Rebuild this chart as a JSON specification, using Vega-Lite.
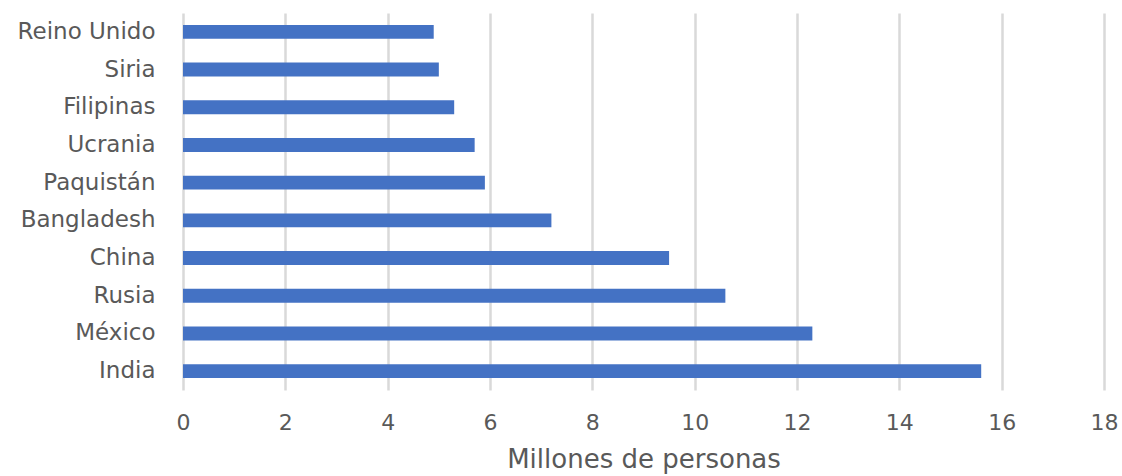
{
  "$schema": "https://vega.github.io/schema/vega-lite/v6.json",
  "width": 921,
  "height": 377,
  "autosize": {"type": "none"},
  "padding": {"left": 183, "top": 13, "right": 18, "bottom": 86},
  "background": "white",
  "data": {
    "values": [
      {"pais": "Reino Unido", "valor": 4.9},
      {"pais": "Siria", "valor": 5.0},
      {"pais": "Filipinas", "valor": 5.3},
      {"pais": "Ucrania", "valor": 5.7},
      {"pais": "Paquistán\u00a0", "valor": 5.9},
      {"pais": "Bangladesh", "valor": 7.2},
      {"pais": "China", "valor": 9.5},
      {"pais": "Rusia", "valor": 10.6},
      {"pais": "México", "valor": 12.3},
      {"pais": "India\u00a0", "valor": 15.6}
    ]
  },
  "mark": {"type": "bar", "color": "#4472C4"},
  "encoding": {
    "y": {
      "field": "pais",
      "type": "nominal",
      "sort": null,
      "scale": {"paddingInner": 0.63, "paddingOuter": 0.315},
      "axis": {
        "title": null,
        "domain": false,
        "ticks": false,
        "grid": false,
        "labelPadding": 28,
        "labelFont": "DejaVu Sans",
        "labelFontSize": 23,
        "labelColor": "#595959"
      }
    },
    "x": {
      "field": "valor",
      "type": "quantitative",
      "scale": {"domain": [0, 18], "nice": false},
      "axis": {
        "values": [0, 2, 4, 6, 8, 10, 12, 14, 16, 18],
        "title": "Millones de personas",
        "titleFont": "DejaVu Sans",
        "titleFontSize": 26,
        "titleFontWeight": "normal",
        "titleColor": "#595959",
        "titlePadding": 13,
        "domain": false,
        "ticks": false,
        "grid": true,
        "gridColor": "#d9d9d9",
        "gridWidth": 2.5,
        "labelPadding": 22,
        "labelFlush": false,
        "labelFont": "DejaVu Sans",
        "labelFontSize": 22,
        "labelColor": "#595959"
      }
    }
  },
  "config": {"view": {"stroke": null}}
}
